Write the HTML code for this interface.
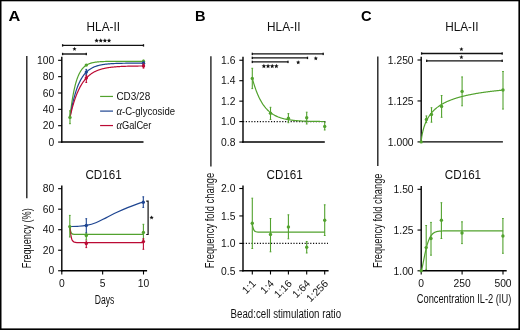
<!DOCTYPE html>
<html><head><meta charset="utf-8"><style>
html,body{margin:0;padding:0;background:#fff;}
svg{display:block;font-family:"Liberation Sans", sans-serif;will-change:transform;}
</style></head><body>
<svg width="520" height="330" viewBox="0 0 520 330">
<rect x="0" y="0" width="520" height="330" fill="#fff"/>
<rect x="0" y="0" width="520" height="1.3" fill="#000"/>
<rect x="0" y="0" width="1.5" height="330" fill="#000"/>
<rect x="518.4" y="0" width="1.6" height="330" fill="#000"/>
<rect x="0" y="328.4" width="520" height="1.6" fill="#000"/>
<text x="8.40" y="20.60" font-size="14.6" text-anchor="start" fill="#000" font-weight="bold" textLength="11.8" lengthAdjust="spacingAndGlyphs" >A</text>
<text x="195.00" y="20.80" font-size="14.6" text-anchor="start" fill="#000" font-weight="bold" >B</text>
<text x="361.00" y="20.80" font-size="14.6" text-anchor="start" fill="#000" font-weight="bold" textLength="10.6" lengthAdjust="spacingAndGlyphs" >C</text>
<text x="86.60" y="30.50" font-size="12.2" text-anchor="start" fill="#111" font-weight="normal" textLength="33.4" lengthAdjust="spacingAndGlyphs" >HLA-II</text>
<text x="267.10" y="30.50" font-size="12.2" text-anchor="start" fill="#111" font-weight="normal" textLength="33.4" lengthAdjust="spacingAndGlyphs" >HLA-II</text>
<text x="445.20" y="30.50" font-size="12.2" text-anchor="start" fill="#111" font-weight="normal" textLength="33.4" lengthAdjust="spacingAndGlyphs" >HLA-II</text>
<text x="85.40" y="178.50" font-size="12.6" text-anchor="start" fill="#111" font-weight="normal" textLength="36.3" lengthAdjust="spacingAndGlyphs" >CD161</text>
<text x="266.50" y="178.50" font-size="12.6" text-anchor="start" fill="#111" font-weight="normal" textLength="36.3" lengthAdjust="spacingAndGlyphs" >CD161</text>
<text x="444.80" y="178.50" font-size="12.6" text-anchor="start" fill="#111" font-weight="normal" textLength="36.3" lengthAdjust="spacingAndGlyphs" >CD161</text>
<line x1="26.80" y1="56.10" x2="26.80" y2="198.20" stroke="#222" stroke-width="1.4" />
<line x1="210.90" y1="56.30" x2="210.90" y2="166.40" stroke="#222" stroke-width="1.4" />
<line x1="377.80" y1="56.40" x2="377.80" y2="165.90" stroke="#222" stroke-width="1.4" />
<text x="0.00" y="0.00" font-size="12.2" text-anchor="start" fill="#111" font-weight="normal" textLength="60" lengthAdjust="spacingAndGlyphs" transform="translate(30.6,268.2) rotate(-90)">Frequency (%)</text>
<text x="0.00" y="0.00" font-size="12.2" text-anchor="start" fill="#111" font-weight="normal" textLength="95.5" lengthAdjust="spacingAndGlyphs" transform="translate(213.9,268.2) rotate(-90)">Frequency fold change</text>
<text x="0.00" y="0.00" font-size="12.2" text-anchor="start" fill="#111" font-weight="normal" textLength="94.5" lengthAdjust="spacingAndGlyphs" transform="translate(381.5,268.0) rotate(-90)">Frequency fold change</text>
<line x1="61.80" y1="56.80" x2="61.80" y2="142.75" stroke="#000" stroke-width="1.4" />
<line x1="58.10" y1="142.05" x2="61.80" y2="142.05" stroke="#000" stroke-width="1.1" />
<text x="54.20" y="145.75" font-size="10.3" text-anchor="end" fill="#111" font-weight="normal" >0</text>
<line x1="58.10" y1="125.70" x2="61.80" y2="125.70" stroke="#000" stroke-width="1.1" />
<text x="54.20" y="129.40" font-size="10.3" text-anchor="end" fill="#111" font-weight="normal" >20</text>
<line x1="58.10" y1="109.35" x2="61.80" y2="109.35" stroke="#000" stroke-width="1.1" />
<text x="54.20" y="113.05" font-size="10.3" text-anchor="end" fill="#111" font-weight="normal" >40</text>
<line x1="58.10" y1="93.00" x2="61.80" y2="93.00" stroke="#000" stroke-width="1.1" />
<text x="54.20" y="96.70" font-size="10.3" text-anchor="end" fill="#111" font-weight="normal" >60</text>
<line x1="58.10" y1="76.65" x2="61.80" y2="76.65" stroke="#000" stroke-width="1.1" />
<text x="54.20" y="80.35" font-size="10.3" text-anchor="end" fill="#111" font-weight="normal" >80</text>
<line x1="58.10" y1="60.30" x2="61.80" y2="60.30" stroke="#000" stroke-width="1.1" />
<text x="54.20" y="64.00" font-size="10.3" text-anchor="end" fill="#111" font-weight="normal" >100</text>
<line x1="61.10" y1="142.05" x2="143.50" y2="142.05" stroke="#000" stroke-width="1.4" />
<line x1="62.60" y1="45.40" x2="143.50" y2="45.40" stroke="#111" stroke-width="1.4" />
<rect x="61.95" y="44.20" width="1.3" height="2.4" fill="#111"/>
<rect x="142.85" y="44.20" width="1.3" height="2.4" fill="#111"/>
<line x1="62.60" y1="54.00" x2="86.30" y2="54.00" stroke="#111" stroke-width="1.4" />
<rect x="61.95" y="52.80" width="1.3" height="2.4" fill="#111"/>
<rect x="85.65" y="52.80" width="1.3" height="2.4" fill="#111"/>
<polygon points="96.60,38.30 97.21,39.76 98.79,39.89 97.58,40.92 97.95,42.46 96.60,41.63 95.25,42.46 95.62,40.92 94.41,39.89 95.99,39.76" fill="#111"/>
<polygon points="100.75,38.30 101.36,39.76 102.94,39.89 101.73,40.92 102.10,42.46 100.75,41.63 99.40,42.46 99.77,40.92 98.56,39.89 100.14,39.76" fill="#111"/>
<polygon points="104.90,38.30 105.51,39.76 107.09,39.89 105.88,40.92 106.25,42.46 104.90,41.63 103.55,42.46 103.92,40.92 102.71,39.89 104.29,39.76" fill="#111"/>
<polygon points="109.05,38.30 109.66,39.76 111.24,39.89 110.03,40.92 110.40,42.46 109.05,41.63 107.70,42.46 108.07,40.92 106.86,39.89 108.44,39.76" fill="#111"/>
<polygon points="74.50,46.80 75.08,48.20 76.59,48.32 75.44,49.31 75.79,50.78 74.50,49.99 73.21,50.78 73.56,49.31 72.41,48.32 73.92,48.20" fill="#111"/>
<path d="M69.97,117.40 L70.38,113.79 L70.79,110.41 L71.20,107.25 L71.60,104.30 L72.01,101.53 L72.42,98.94 L72.83,96.52 L73.24,94.25 L73.65,92.13 L74.05,90.15 L74.46,88.29 L74.87,86.56 L75.28,84.93 L75.69,83.41 L76.10,81.99 L76.51,80.66 L76.91,79.41 L77.32,78.25 L77.73,77.16 L78.14,76.14 L78.55,75.18 L78.96,74.29 L79.37,73.45 L79.77,72.67 L80.18,71.94 L80.59,71.26 L81.00,70.62 L81.41,70.02 L81.82,69.46 L82.22,68.93 L82.63,68.44 L83.04,67.98 L83.45,67.55 L83.86,67.15 L84.27,66.77 L84.68,66.42 L85.08,66.09 L85.49,65.78 L85.90,65.49 L86.31,65.22 L86.72,64.97 L87.13,64.74 L87.54,64.51 L87.94,64.31 L88.35,64.11 L88.76,63.93 L89.17,63.76 L89.58,63.61 L89.99,63.46 L90.39,63.32 L90.80,63.19 L91.21,63.07 L91.62,62.95 L92.03,62.85 L92.44,62.75 L92.85,62.65 L93.25,62.57 L93.66,62.49 L94.07,62.41 L94.48,62.34 L94.89,62.27 L95.30,62.21 L95.71,62.15 L96.11,62.10 L96.52,62.04 L96.93,62.00 L97.34,61.95 L97.75,61.91 L98.16,61.87 L98.56,61.83 L98.97,61.80 L99.38,61.77 L99.79,61.74 L100.20,61.71 L100.61,61.68 L101.02,61.66 L101.42,61.64 L101.83,61.61 L102.24,61.59 L102.65,61.57 L103.06,61.56 L103.47,61.54 L103.88,61.52 L104.28,61.51 L104.69,61.50 L105.10,61.48 L105.51,61.47 L105.92,61.46 L106.33,61.45 L106.73,61.44 L107.14,61.43 L107.55,61.42 L107.96,61.42 L108.37,61.41 L108.78,61.40 L109.19,61.39 L109.59,61.39 L110.00,61.38 L110.41,61.38 L110.82,61.37 L111.23,61.37 L111.64,61.36 L112.05,61.36 L112.45,61.36 L112.86,61.35 L113.27,61.35 L113.68,61.35 L114.09,61.34 L114.50,61.34 L114.91,61.34 L115.31,61.33 L115.72,61.33 L116.13,61.33 L116.54,61.33 L116.95,61.33 L117.36,61.33 L117.76,61.32 L118.17,61.32 L118.58,61.32 L118.99,61.32 L119.40,61.32 L119.81,61.32 L120.22,61.32 L120.62,61.31 L121.03,61.31 L121.44,61.31 L121.85,61.31 L122.26,61.31 L122.67,61.31 L123.07,61.31 L123.48,61.31 L123.89,61.31 L124.30,61.31 L124.71,61.31 L125.12,61.31 L125.53,61.31 L125.93,61.31 L126.34,61.31 L126.75,61.31 L127.16,61.31 L127.57,61.30 L127.98,61.30 L128.39,61.30 L128.79,61.30 L129.20,61.30 L129.61,61.30 L130.02,61.30 L130.43,61.30 L130.84,61.30 L131.25,61.30 L131.65,61.30 L132.06,61.30 L132.47,61.30 L132.88,61.30 L133.29,61.30 L133.70,61.30 L134.10,61.30 L134.51,61.30 L134.92,61.30 L135.33,61.30 L135.74,61.30 L136.15,61.30 L136.56,61.30 L136.96,61.30 L137.37,61.30 L137.78,61.30 L138.19,61.30 L138.60,61.30 L139.01,61.30 L139.41,61.30 L139.82,61.30 L140.23,61.30 L140.64,61.30 L141.05,61.30 L141.46,61.30 L141.87,61.30 L142.27,61.30 L142.68,61.30 L143.09,61.30 L143.50,61.30" fill="none" stroke="#52a22e" stroke-width="1.2" />
<path d="M69.97,117.40 L70.38,115.03 L70.79,112.76 L71.20,110.59 L71.60,108.51 L72.01,106.52 L72.42,104.63 L72.83,102.81 L73.24,101.07 L73.65,99.41 L74.05,97.83 L74.46,96.31 L74.87,94.86 L75.28,93.47 L75.69,92.14 L76.10,90.87 L76.51,89.66 L76.91,88.50 L77.32,87.39 L77.73,86.32 L78.14,85.31 L78.55,84.34 L78.96,83.41 L79.37,82.52 L79.77,81.67 L80.18,80.86 L80.59,80.08 L81.00,79.34 L81.41,78.63 L81.82,77.95 L82.22,77.30 L82.63,76.68 L83.04,76.09 L83.45,75.52 L83.86,74.98 L84.27,74.46 L84.68,73.96 L85.08,73.49 L85.49,73.03 L85.90,72.60 L86.31,72.18 L86.72,71.79 L87.13,71.41 L87.54,71.04 L87.94,70.70 L88.35,70.36 L88.76,70.05 L89.17,69.74 L89.58,69.45 L89.99,69.18 L90.39,68.91 L90.80,68.66 L91.21,68.41 L91.62,68.18 L92.03,67.96 L92.44,67.75 L92.85,67.54 L93.25,67.35 L93.66,67.16 L94.07,66.99 L94.48,66.82 L94.89,66.65 L95.30,66.50 L95.71,66.35 L96.11,66.21 L96.52,66.07 L96.93,65.94 L97.34,65.82 L97.75,65.70 L98.16,65.58 L98.56,65.48 L98.97,65.37 L99.38,65.27 L99.79,65.18 L100.20,65.09 L100.61,65.00 L101.02,64.92 L101.42,64.84 L101.83,64.76 L102.24,64.69 L102.65,64.62 L103.06,64.55 L103.47,64.49 L103.88,64.43 L104.28,64.37 L104.69,64.32 L105.10,64.26 L105.51,64.21 L105.92,64.16 L106.33,64.12 L106.73,64.07 L107.14,64.03 L107.55,63.99 L107.96,63.95 L108.37,63.91 L108.78,63.88 L109.19,63.84 L109.59,63.81 L110.00,63.78 L110.41,63.75 L110.82,63.72 L111.23,63.69 L111.64,63.67 L112.05,63.64 L112.45,63.62 L112.86,63.60 L113.27,63.58 L113.68,63.55 L114.09,63.53 L114.50,63.52 L114.91,63.50 L115.31,63.48 L115.72,63.46 L116.13,63.45 L116.54,63.43 L116.95,63.42 L117.36,63.40 L117.76,63.39 L118.17,63.38 L118.58,63.37 L118.99,63.35 L119.40,63.34 L119.81,63.33 L120.22,63.32 L120.62,63.31 L121.03,63.30 L121.44,63.29 L121.85,63.29 L122.26,63.28 L122.67,63.27 L123.07,63.26 L123.48,63.26 L123.89,63.25 L124.30,63.24 L124.71,63.24 L125.12,63.23 L125.53,63.22 L125.93,63.22 L126.34,63.21 L126.75,63.21 L127.16,63.20 L127.57,63.20 L127.98,63.20 L128.39,63.19 L128.79,63.19 L129.20,63.18 L129.61,63.18 L130.02,63.18 L130.43,63.17 L130.84,63.17 L131.25,63.17 L131.65,63.16 L132.06,63.16 L132.47,63.16 L132.88,63.16 L133.29,63.15 L133.70,63.15 L134.10,63.15 L134.51,63.15 L134.92,63.14 L135.33,63.14 L135.74,63.14 L136.15,63.14 L136.56,63.14 L136.96,63.14 L137.37,63.13 L137.78,63.13 L138.19,63.13 L138.60,63.13 L139.01,63.13 L139.41,63.13 L139.82,63.13 L140.23,63.12 L140.64,63.12 L141.05,63.12 L141.46,63.12 L141.87,63.12 L142.27,63.12 L142.68,63.12 L143.09,63.12 L143.50,63.12" fill="none" stroke="#1e4591" stroke-width="1.2" />
<path d="M69.97,117.40 L70.38,115.58 L70.79,113.82 L71.20,112.13 L71.60,110.49 L72.01,108.92 L72.42,107.40 L72.83,105.93 L73.24,104.51 L73.65,103.15 L74.05,101.83 L74.46,100.56 L74.87,99.33 L75.28,98.15 L75.69,97.01 L76.10,95.91 L76.51,94.85 L76.91,93.83 L77.32,92.84 L77.73,91.89 L78.14,90.97 L78.55,90.08 L78.96,89.23 L79.37,88.40 L79.77,87.61 L80.18,86.84 L80.59,86.10 L81.00,85.38 L81.41,84.69 L81.82,84.03 L82.22,83.39 L82.63,82.77 L83.04,82.17 L83.45,81.60 L83.86,81.04 L84.27,80.51 L84.68,79.99 L85.08,79.49 L85.49,79.01 L85.90,78.55 L86.31,78.10 L86.72,77.67 L87.13,77.25 L87.54,76.85 L87.94,76.47 L88.35,76.09 L88.76,75.73 L89.17,75.38 L89.58,75.05 L89.99,74.72 L90.39,74.41 L90.80,74.11 L91.21,73.82 L91.62,73.54 L92.03,73.27 L92.44,73.01 L92.85,72.76 L93.25,72.52 L93.66,72.28 L94.07,72.06 L94.48,71.84 L94.89,71.63 L95.30,71.43 L95.71,71.23 L96.11,71.04 L96.52,70.86 L96.93,70.69 L97.34,70.52 L97.75,70.35 L98.16,70.20 L98.56,70.04 L98.97,69.90 L99.38,69.76 L99.79,69.62 L100.20,69.49 L100.61,69.36 L101.02,69.24 L101.42,69.12 L101.83,69.01 L102.24,68.90 L102.65,68.79 L103.06,68.69 L103.47,68.59 L103.88,68.49 L104.28,68.40 L104.69,68.31 L105.10,68.23 L105.51,68.15 L105.92,68.07 L106.33,67.99 L106.73,67.92 L107.14,67.85 L107.55,67.78 L107.96,67.71 L108.37,67.65 L108.78,67.58 L109.19,67.53 L109.59,67.47 L110.00,67.41 L110.41,67.36 L110.82,67.31 L111.23,67.26 L111.64,67.21 L112.05,67.16 L112.45,67.12 L112.86,67.08 L113.27,67.03 L113.68,66.99 L114.09,66.96 L114.50,66.92 L114.91,66.88 L115.31,66.85 L115.72,66.81 L116.13,66.78 L116.54,66.75 L116.95,66.72 L117.36,66.69 L117.76,66.66 L118.17,66.64 L118.58,66.61 L118.99,66.58 L119.40,66.56 L119.81,66.54 L120.22,66.51 L120.62,66.49 L121.03,66.47 L121.44,66.45 L121.85,66.43 L122.26,66.41 L122.67,66.40 L123.07,66.38 L123.48,66.36 L123.89,66.34 L124.30,66.33 L124.71,66.31 L125.12,66.30 L125.53,66.29 L125.93,66.27 L126.34,66.26 L126.75,66.25 L127.16,66.23 L127.57,66.22 L127.98,66.21 L128.39,66.20 L128.79,66.19 L129.20,66.18 L129.61,66.17 L130.02,66.16 L130.43,66.15 L130.84,66.14 L131.25,66.13 L131.65,66.12 L132.06,66.12 L132.47,66.11 L132.88,66.10 L133.29,66.09 L133.70,66.09 L134.10,66.08 L134.51,66.07 L134.92,66.07 L135.33,66.06 L135.74,66.06 L136.15,66.05 L136.56,66.05 L136.96,66.04 L137.37,66.04 L137.78,66.03 L138.19,66.03 L138.60,66.02 L139.01,66.02 L139.41,66.01 L139.82,66.01 L140.23,66.01 L140.64,66.00 L141.05,66.00 L141.46,65.99 L141.87,65.99 L142.27,65.99 L142.68,65.98 L143.09,65.98 L143.50,65.98" fill="none" stroke="#bb0a34" stroke-width="1.2" />
<line x1="69.97" y1="110.80" x2="69.97" y2="123.70" stroke="#52a22e" stroke-width="1.1" />
<line x1="69.12" y1="110.80" x2="70.82" y2="110.80" stroke="#52a22e" stroke-width="1.0" />
<line x1="69.12" y1="123.70" x2="70.82" y2="123.70" stroke="#52a22e" stroke-width="1.0" />
<circle cx="69.97" cy="117.40" r="1.7" fill="#52a22e"/>
<circle cx="86.31" cy="65.10" r="1.7" fill="#52a22e"/>
<line x1="143.50" y1="60.00" x2="143.50" y2="62.80" stroke="#52a22e" stroke-width="1.1" />
<line x1="142.65" y1="60.00" x2="144.35" y2="60.00" stroke="#52a22e" stroke-width="1.0" />
<line x1="142.65" y1="62.80" x2="144.35" y2="62.80" stroke="#52a22e" stroke-width="1.0" />
<circle cx="143.50" cy="61.50" r="1.7" fill="#52a22e"/>
<line x1="86.31" y1="69.40" x2="86.31" y2="74.80" stroke="#1e4591" stroke-width="1.1" />
<line x1="85.46" y1="69.40" x2="87.16" y2="69.40" stroke="#1e4591" stroke-width="1.0" />
<line x1="85.46" y1="74.80" x2="87.16" y2="74.80" stroke="#1e4591" stroke-width="1.0" />
<circle cx="86.31" cy="72.10" r="1.7" fill="#1e4591"/>
<line x1="143.50" y1="61.80" x2="143.50" y2="64.60" stroke="#1e4591" stroke-width="1.1" />
<line x1="142.65" y1="61.80" x2="144.35" y2="61.80" stroke="#1e4591" stroke-width="1.0" />
<line x1="142.65" y1="64.60" x2="144.35" y2="64.60" stroke="#1e4591" stroke-width="1.0" />
<circle cx="143.50" cy="63.20" r="1.7" fill="#1e4591"/>
<line x1="86.31" y1="75.30" x2="86.31" y2="82.50" stroke="#bb0a34" stroke-width="1.1" />
<line x1="85.46" y1="75.30" x2="87.16" y2="75.30" stroke="#bb0a34" stroke-width="1.0" />
<line x1="85.46" y1="82.50" x2="87.16" y2="82.50" stroke="#bb0a34" stroke-width="1.0" />
<circle cx="86.31" cy="78.00" r="1.7" fill="#bb0a34"/>
<line x1="143.50" y1="63.90" x2="143.50" y2="68.10" stroke="#bb0a34" stroke-width="1.1" />
<line x1="142.65" y1="63.90" x2="144.35" y2="63.90" stroke="#bb0a34" stroke-width="1.0" />
<line x1="142.65" y1="68.10" x2="144.35" y2="68.10" stroke="#bb0a34" stroke-width="1.0" />
<circle cx="143.50" cy="66.00" r="1.7" fill="#bb0a34"/>
<line x1="100.10" y1="96.45" x2="113.00" y2="96.45" stroke="#52a22e" stroke-width="1.2" />
<text x="116.40" y="99.85" font-size="10.3" text-anchor="start" fill="#111" font-weight="normal" textLength="33.8" lengthAdjust="spacingAndGlyphs" >CD3/28</text>
<line x1="100.10" y1="111.10" x2="113.00" y2="111.10" stroke="#1e4591" stroke-width="1.2" />
<text x="116.40" y="114.50" font-size="10.3" text-anchor="start" fill="#111" font-weight="normal" textLength="58.6" lengthAdjust="spacingAndGlyphs" ><tspan font-family="Liberation Serif" font-style="italic" font-size="11.6">&#945;</tspan>-C-glycoside</text>
<line x1="100.10" y1="125.55" x2="113.00" y2="125.55" stroke="#bb0a34" stroke-width="1.2" />
<text x="116.40" y="128.95" font-size="10.3" text-anchor="start" fill="#111" font-weight="normal" textLength="35.0" lengthAdjust="spacingAndGlyphs" ><tspan font-family="Liberation Serif" font-style="italic" font-size="11.6">&#945;</tspan>GalCer</text>
<line x1="61.80" y1="185.50" x2="61.80" y2="271.45" stroke="#000" stroke-width="1.4" />
<line x1="58.10" y1="270.75" x2="61.80" y2="270.75" stroke="#000" stroke-width="1.1" />
<text x="54.20" y="274.45" font-size="10.3" text-anchor="end" fill="#111" font-weight="normal" >0</text>
<line x1="58.10" y1="250.23" x2="61.80" y2="250.23" stroke="#000" stroke-width="1.1" />
<text x="54.20" y="253.93" font-size="10.3" text-anchor="end" fill="#111" font-weight="normal" >20</text>
<line x1="58.10" y1="229.71" x2="61.80" y2="229.71" stroke="#000" stroke-width="1.1" />
<text x="54.20" y="233.41" font-size="10.3" text-anchor="end" fill="#111" font-weight="normal" >40</text>
<line x1="58.10" y1="209.19" x2="61.80" y2="209.19" stroke="#000" stroke-width="1.1" />
<text x="54.20" y="212.89" font-size="10.3" text-anchor="end" fill="#111" font-weight="normal" >60</text>
<line x1="58.10" y1="188.67" x2="61.80" y2="188.67" stroke="#000" stroke-width="1.1" />
<text x="54.20" y="192.37" font-size="10.3" text-anchor="end" fill="#111" font-weight="normal" >80</text>
<line x1="61.10" y1="270.75" x2="147.10" y2="270.75" stroke="#000" stroke-width="1.4" />
<line x1="61.80" y1="270.75" x2="61.80" y2="274.50" stroke="#000" stroke-width="1.1" />
<text x="61.80" y="286.80" font-size="10.3" text-anchor="middle" fill="#111" font-weight="normal" >0</text>
<line x1="102.65" y1="270.75" x2="102.65" y2="274.50" stroke="#000" stroke-width="1.1" />
<text x="102.65" y="286.80" font-size="10.3" text-anchor="middle" fill="#111" font-weight="normal" >5</text>
<line x1="143.50" y1="270.75" x2="143.50" y2="274.50" stroke="#000" stroke-width="1.1" />
<text x="143.50" y="286.80" font-size="10.3" text-anchor="middle" fill="#111" font-weight="normal" >10</text>
<text x="104.50" y="303.50" font-size="12" text-anchor="middle" fill="#111" font-weight="normal" textLength="19.6" lengthAdjust="spacingAndGlyphs" >Days</text>
<path d="M69.80,226.50 C71.17,226.47 75.25,226.48 78.00,226.30 C80.75,226.12 83.33,225.98 86.30,225.40 C89.27,224.82 92.45,224.10 95.80,222.80 C99.15,221.50 102.87,219.35 106.40,217.60 C109.93,215.85 113.47,213.97 117.00,212.30 C120.53,210.63 124.07,209.05 127.60,207.60 C131.13,206.15 135.57,204.50 138.20,203.60 C140.83,202.70 142.53,202.43 143.40,202.20" fill="none" stroke="#1e4591" stroke-width="1.2" />
<path d="M69.8,226.6 C70.8,233.5 71.5,234.4 74.5,234.4 L143.4,234.4" fill="none" stroke="#52a22e" stroke-width="1.2" />
<path d="M69.8,226.6 C71.2,240.8 72,242.6 77,242.6 L143.4,242.6" fill="none" stroke="#bb0a34" stroke-width="1.2" />
<line x1="69.80" y1="215.40" x2="69.80" y2="237.00" stroke="#52a22e" stroke-width="1.1" />
<line x1="68.95" y1="215.40" x2="70.65" y2="215.40" stroke="#52a22e" stroke-width="1.0" />
<line x1="68.95" y1="237.00" x2="70.65" y2="237.00" stroke="#52a22e" stroke-width="1.0" />
<circle cx="69.80" cy="226.60" r="1.7" fill="#52a22e"/>
<line x1="86.30" y1="218.70" x2="86.30" y2="232.70" stroke="#1e4591" stroke-width="1.1" />
<line x1="85.45" y1="218.70" x2="87.15" y2="218.70" stroke="#1e4591" stroke-width="1.0" />
<line x1="85.45" y1="232.70" x2="87.15" y2="232.70" stroke="#1e4591" stroke-width="1.0" />
<circle cx="86.30" cy="225.50" r="1.7" fill="#1e4591"/>
<line x1="86.30" y1="233.40" x2="86.30" y2="239.80" stroke="#52a22e" stroke-width="1.1" />
<line x1="85.45" y1="233.40" x2="87.15" y2="233.40" stroke="#52a22e" stroke-width="1.0" />
<line x1="85.45" y1="239.80" x2="87.15" y2="239.80" stroke="#52a22e" stroke-width="1.0" />
<circle cx="86.30" cy="235.60" r="1.7" fill="#52a22e"/>
<line x1="86.30" y1="241.00" x2="86.30" y2="247.60" stroke="#bb0a34" stroke-width="1.1" />
<line x1="85.45" y1="241.00" x2="87.15" y2="241.00" stroke="#bb0a34" stroke-width="1.0" />
<line x1="85.45" y1="247.60" x2="87.15" y2="247.60" stroke="#bb0a34" stroke-width="1.0" />
<circle cx="86.30" cy="243.60" r="1.7" fill="#bb0a34"/>
<line x1="143.30" y1="196.80" x2="143.30" y2="207.40" stroke="#1e4591" stroke-width="1.1" />
<line x1="142.45" y1="196.80" x2="144.15" y2="196.80" stroke="#1e4591" stroke-width="1.0" />
<line x1="142.45" y1="207.40" x2="144.15" y2="207.40" stroke="#1e4591" stroke-width="1.0" />
<circle cx="143.30" cy="202.30" r="1.7" fill="#1e4591"/>
<line x1="143.40" y1="224.30" x2="143.40" y2="240.00" stroke="#52a22e" stroke-width="1.1" />
<line x1="142.55" y1="224.30" x2="144.25" y2="224.30" stroke="#52a22e" stroke-width="1.0" />
<line x1="142.55" y1="240.00" x2="144.25" y2="240.00" stroke="#52a22e" stroke-width="1.0" />
<circle cx="143.40" cy="232.40" r="1.7" fill="#52a22e"/>
<line x1="143.40" y1="238.70" x2="143.40" y2="249.30" stroke="#bb0a34" stroke-width="1.1" />
<line x1="142.55" y1="238.70" x2="144.25" y2="238.70" stroke="#bb0a34" stroke-width="1.0" />
<line x1="142.55" y1="249.30" x2="144.25" y2="249.30" stroke="#bb0a34" stroke-width="1.0" />
<circle cx="143.40" cy="241.60" r="1.7" fill="#bb0a34"/>
<path d="M146.2,201.1 L148.1,201.1 L148.1,234.5 L146.2,234.5" fill="none" stroke="#111" stroke-width="1.2" />
<polygon points="151.60,215.40 152.18,216.80 153.69,216.92 152.54,217.91 152.89,219.38 151.60,218.59 150.31,219.38 150.66,217.91 149.51,216.92 151.02,216.80" fill="#111"/>
<line x1="243.00" y1="56.80" x2="243.00" y2="142.70" stroke="#000" stroke-width="1.4" />
<line x1="239.30" y1="142.05" x2="243.00" y2="142.05" stroke="#000" stroke-width="1.1" />
<text x="235.40" y="145.75" font-size="10.3" text-anchor="end" fill="#111" font-weight="normal" >0.8</text>
<line x1="239.30" y1="121.60" x2="243.00" y2="121.60" stroke="#000" stroke-width="1.1" />
<text x="235.40" y="125.30" font-size="10.3" text-anchor="end" fill="#111" font-weight="normal" >1.0</text>
<line x1="239.30" y1="101.15" x2="243.00" y2="101.15" stroke="#000" stroke-width="1.1" />
<text x="235.40" y="104.85" font-size="10.3" text-anchor="end" fill="#111" font-weight="normal" >1.2</text>
<line x1="239.30" y1="80.70" x2="243.00" y2="80.70" stroke="#000" stroke-width="1.1" />
<text x="235.40" y="84.40" font-size="10.3" text-anchor="end" fill="#111" font-weight="normal" >1.4</text>
<line x1="239.30" y1="60.25" x2="243.00" y2="60.25" stroke="#000" stroke-width="1.1" />
<text x="235.40" y="63.95" font-size="10.3" text-anchor="end" fill="#111" font-weight="normal" >1.6</text>
<line x1="242.30" y1="142.00" x2="324.80" y2="142.00" stroke="#000" stroke-width="1.4" />
<line x1="243.00" y1="121.60" x2="325.50" y2="121.60" stroke="#111" stroke-width="1.1" stroke-dasharray="1.2,1.6"/>
<line x1="252.30" y1="53.90" x2="323.20" y2="53.90" stroke="#111" stroke-width="1.3" />
<rect x="251.65" y="52.70" width="1.3" height="2.4" fill="#111"/>
<rect x="322.55" y="52.70" width="1.3" height="2.4" fill="#111"/>
<line x1="252.30" y1="57.90" x2="307.50" y2="57.90" stroke="#111" stroke-width="1.3" />
<rect x="251.65" y="56.70" width="1.3" height="2.4" fill="#111"/>
<rect x="306.85" y="56.70" width="1.3" height="2.4" fill="#111"/>
<line x1="252.30" y1="61.90" x2="288.00" y2="61.90" stroke="#111" stroke-width="1.3" />
<rect x="251.65" y="60.70" width="1.3" height="2.4" fill="#111"/>
<rect x="287.35" y="60.70" width="1.3" height="2.4" fill="#111"/>
<polygon points="263.90,63.80 264.53,65.33 266.18,65.46 264.93,66.53 265.31,68.14 263.90,67.28 262.49,68.14 262.87,66.53 261.62,65.46 263.27,65.33" fill="#111"/>
<polygon points="268.05,63.80 268.68,65.33 270.33,65.46 269.08,66.53 269.46,68.14 268.05,67.28 266.64,68.14 267.02,66.53 265.77,65.46 267.42,65.33" fill="#111"/>
<polygon points="272.20,63.80 272.83,65.33 274.48,65.46 273.23,66.53 273.61,68.14 272.20,67.28 270.79,68.14 271.17,66.53 269.92,65.46 271.57,65.33" fill="#111"/>
<polygon points="276.35,63.80 276.98,65.33 278.63,65.46 277.38,66.53 277.76,68.14 276.35,67.28 274.94,68.14 275.32,66.53 274.07,65.46 275.72,65.33" fill="#111"/>
<polygon points="298.20,60.20 298.78,61.60 300.29,61.72 299.14,62.71 299.49,64.18 298.20,63.39 296.91,64.18 297.26,62.71 296.11,61.72 297.62,61.60" fill="#111"/>
<polygon points="315.80,56.20 316.38,57.60 317.89,57.72 316.74,58.71 317.09,60.18 315.80,59.39 314.51,60.18 314.86,58.71 313.71,57.72 315.22,57.60" fill="#111"/>
<path d="M252.30,78.30 L252.80,80.13 L253.30,81.88 L253.80,83.55 L254.30,85.16 L254.80,86.69 L255.30,88.17 L255.80,89.58 L256.30,90.93 L256.80,92.22 L257.30,93.46 L257.80,94.65 L258.30,95.79 L258.80,96.88 L259.30,97.92 L259.80,98.92 L260.30,99.87 L260.80,100.79 L261.30,101.67 L261.80,102.51 L262.30,103.31 L262.80,104.09 L263.30,104.83 L263.80,105.53 L264.30,106.21 L264.80,106.86 L265.30,107.48 L265.80,108.08 L266.30,108.65 L266.80,109.19 L267.30,109.72 L267.80,110.22 L268.30,110.70 L268.80,111.16 L269.30,111.60 L269.80,112.02 L270.30,112.43 L270.80,112.81 L271.30,113.18 L271.80,113.54 L272.30,113.88 L272.80,114.20 L273.30,114.52 L273.80,114.82 L274.30,115.10 L274.80,115.38 L275.30,115.64 L275.80,115.89 L276.30,116.13 L276.80,116.36 L277.30,116.58 L277.80,116.79 L278.30,117.00 L278.80,117.19 L279.30,117.38 L279.80,117.56 L280.30,117.73 L280.80,117.89 L281.30,118.05 L281.80,118.20 L282.30,118.34 L282.80,118.48 L283.30,118.61 L283.80,118.73 L284.30,118.86 L284.80,118.97 L285.30,119.08 L285.80,119.19 L286.30,119.29 L286.80,119.39 L287.30,119.48 L287.80,119.57 L288.30,119.66 L288.80,119.74 L289.30,119.82 L289.80,119.89 L290.30,119.96 L290.80,120.03 L291.30,120.10 L291.80,120.16 L292.30,120.22 L292.80,120.28 L293.30,120.34 L293.80,120.39 L294.30,120.44 L294.80,120.49 L295.30,120.54 L295.80,120.58 L296.30,120.62 L296.80,120.67 L297.30,120.71 L297.80,120.74 L298.30,120.78 L298.80,120.81 L299.30,120.85 L299.80,120.88 L300.30,120.91 L300.80,120.94 L301.30,120.97 L301.80,120.99 L302.30,121.02 L302.80,121.04 L303.30,121.07 L303.80,121.09 L304.30,121.11 L304.80,121.13 L305.30,121.15 L305.80,121.17 L306.30,121.19 L306.80,121.21 L307.30,121.22 L307.80,121.24 L308.30,121.25 L308.80,121.27 L309.30,121.28 L309.80,121.30 L310.30,121.31 L310.80,121.32 L311.30,121.33 L311.80,121.34 L312.30,121.35 L312.80,121.36 L313.30,121.37 L313.80,121.38 L314.30,121.39 L314.80,121.40 L315.30,121.41 L315.80,121.42 L316.30,121.43 L316.80,121.43 L317.30,121.44 L317.80,121.45 L318.30,121.45 L318.80,121.46 L319.30,121.47 L319.80,121.47 L320.30,121.48 L320.80,121.48 L321.30,121.49 L321.80,121.49 L322.30,121.50 L322.80,121.50 L323.30,121.50 L323.80,121.51 L324.30,121.51" fill="none" stroke="#52a22e" stroke-width="1.2" />
<line x1="252.30" y1="68.30" x2="252.30" y2="88.60" stroke="#52a22e" stroke-width="1.1" />
<line x1="251.45" y1="68.30" x2="253.15" y2="68.30" stroke="#52a22e" stroke-width="1.0" />
<line x1="251.45" y1="88.60" x2="253.15" y2="88.60" stroke="#52a22e" stroke-width="1.0" />
<circle cx="252.30" cy="78.40" r="1.7" fill="#52a22e"/>
<line x1="270.50" y1="107.30" x2="270.50" y2="119.50" stroke="#52a22e" stroke-width="1.1" />
<line x1="269.65" y1="107.30" x2="271.35" y2="107.30" stroke="#52a22e" stroke-width="1.0" />
<line x1="269.65" y1="119.50" x2="271.35" y2="119.50" stroke="#52a22e" stroke-width="1.0" />
<circle cx="270.50" cy="113.30" r="1.7" fill="#52a22e"/>
<line x1="288.40" y1="113.60" x2="288.40" y2="122.70" stroke="#52a22e" stroke-width="1.1" />
<line x1="287.55" y1="113.60" x2="289.25" y2="113.60" stroke="#52a22e" stroke-width="1.0" />
<line x1="287.55" y1="122.70" x2="289.25" y2="122.70" stroke="#52a22e" stroke-width="1.0" />
<circle cx="288.40" cy="118.20" r="1.7" fill="#52a22e"/>
<line x1="306.70" y1="112.20" x2="306.70" y2="124.00" stroke="#52a22e" stroke-width="1.1" />
<line x1="305.85" y1="112.20" x2="307.55" y2="112.20" stroke="#52a22e" stroke-width="1.0" />
<line x1="305.85" y1="124.00" x2="307.55" y2="124.00" stroke="#52a22e" stroke-width="1.0" />
<circle cx="306.70" cy="117.80" r="1.7" fill="#52a22e"/>
<line x1="324.70" y1="122.40" x2="324.70" y2="130.00" stroke="#52a22e" stroke-width="1.1" />
<line x1="323.85" y1="122.40" x2="325.55" y2="122.40" stroke="#52a22e" stroke-width="1.0" />
<line x1="323.85" y1="130.00" x2="325.55" y2="130.00" stroke="#52a22e" stroke-width="1.0" />
<circle cx="324.70" cy="126.40" r="1.7" fill="#52a22e"/>
<line x1="243.00" y1="185.50" x2="243.00" y2="271.50" stroke="#000" stroke-width="1.4" />
<line x1="239.30" y1="270.80" x2="243.00" y2="270.80" stroke="#000" stroke-width="1.1" />
<text x="235.40" y="274.50" font-size="10.3" text-anchor="end" fill="#111" font-weight="normal" >0.5</text>
<line x1="239.30" y1="243.37" x2="243.00" y2="243.37" stroke="#000" stroke-width="1.1" />
<text x="235.40" y="247.07" font-size="10.3" text-anchor="end" fill="#111" font-weight="normal" >1.0</text>
<line x1="239.30" y1="215.94" x2="243.00" y2="215.94" stroke="#000" stroke-width="1.1" />
<text x="235.40" y="219.64" font-size="10.3" text-anchor="end" fill="#111" font-weight="normal" >1.5</text>
<line x1="239.30" y1="188.51" x2="243.00" y2="188.51" stroke="#000" stroke-width="1.1" />
<text x="235.40" y="192.21" font-size="10.3" text-anchor="end" fill="#111" font-weight="normal" >2.0</text>
<line x1="242.30" y1="270.80" x2="328.60" y2="270.80" stroke="#000" stroke-width="1.4" />
<line x1="243.00" y1="243.37" x2="328.00" y2="243.37" stroke="#111" stroke-width="1.1" stroke-dasharray="1.2,1.6"/>
<line x1="252.30" y1="270.80" x2="252.30" y2="274.50" stroke="#000" stroke-width="1.1" />
<text x="0.00" y="0.00" font-size="10.4" text-anchor="end" fill="#111" font-weight="normal" transform="translate(256.50,284.2) rotate(-45)">1:1</text>
<line x1="270.50" y1="270.80" x2="270.50" y2="274.50" stroke="#000" stroke-width="1.1" />
<text x="0.00" y="0.00" font-size="10.4" text-anchor="end" fill="#111" font-weight="normal" transform="translate(274.70,284.2) rotate(-45)">1:4</text>
<line x1="288.40" y1="270.80" x2="288.40" y2="274.50" stroke="#000" stroke-width="1.1" />
<text x="0.00" y="0.00" font-size="10.4" text-anchor="end" fill="#111" font-weight="normal" transform="translate(292.60,284.2) rotate(-45)">1:16</text>
<line x1="306.70" y1="270.80" x2="306.70" y2="274.50" stroke="#000" stroke-width="1.1" />
<text x="0.00" y="0.00" font-size="10.4" text-anchor="end" fill="#111" font-weight="normal" transform="translate(310.90,284.2) rotate(-45)">1:64</text>
<line x1="324.70" y1="270.80" x2="324.70" y2="274.50" stroke="#000" stroke-width="1.1" />
<text x="0.00" y="0.00" font-size="10.4" text-anchor="end" fill="#111" font-weight="normal" transform="translate(328.90,284.2) rotate(-45)">1:256</text>
<text x="285.80" y="318.20" font-size="12" text-anchor="middle" fill="#111" font-weight="normal" textLength="110.5" lengthAdjust="spacingAndGlyphs" >Bead:cell stimulation ratio</text>
<path d="M252.1,223.3 C253.5,231 254.5,232.1 258,232.1 L324.8,232.1" fill="none" stroke="#52a22e" stroke-width="1.2" />
<line x1="252.30" y1="198.20" x2="252.30" y2="248.50" stroke="#52a22e" stroke-width="1.1" />
<line x1="251.45" y1="198.20" x2="253.15" y2="198.20" stroke="#52a22e" stroke-width="1.0" />
<line x1="251.45" y1="248.50" x2="253.15" y2="248.50" stroke="#52a22e" stroke-width="1.0" />
<circle cx="252.30" cy="223.30" r="1.7" fill="#52a22e"/>
<line x1="270.50" y1="218.50" x2="270.50" y2="251.80" stroke="#52a22e" stroke-width="1.1" />
<line x1="269.65" y1="218.50" x2="271.35" y2="218.50" stroke="#52a22e" stroke-width="1.0" />
<line x1="269.65" y1="251.80" x2="271.35" y2="251.80" stroke="#52a22e" stroke-width="1.0" />
<circle cx="270.50" cy="234.50" r="1.7" fill="#52a22e"/>
<line x1="288.40" y1="214.80" x2="288.40" y2="238.80" stroke="#52a22e" stroke-width="1.1" />
<line x1="287.55" y1="214.80" x2="289.25" y2="214.80" stroke="#52a22e" stroke-width="1.0" />
<line x1="287.55" y1="238.80" x2="289.25" y2="238.80" stroke="#52a22e" stroke-width="1.0" />
<circle cx="288.40" cy="227.00" r="1.7" fill="#52a22e"/>
<line x1="306.70" y1="241.50" x2="306.70" y2="253.00" stroke="#52a22e" stroke-width="1.1" />
<line x1="305.85" y1="241.50" x2="307.55" y2="241.50" stroke="#52a22e" stroke-width="1.0" />
<line x1="305.85" y1="253.00" x2="307.55" y2="253.00" stroke="#52a22e" stroke-width="1.0" />
<circle cx="306.70" cy="247.30" r="1.7" fill="#52a22e"/>
<line x1="324.70" y1="204.80" x2="324.70" y2="235.50" stroke="#52a22e" stroke-width="1.1" />
<line x1="323.85" y1="204.80" x2="325.55" y2="204.80" stroke="#52a22e" stroke-width="1.0" />
<line x1="323.85" y1="235.50" x2="325.55" y2="235.50" stroke="#52a22e" stroke-width="1.0" />
<circle cx="324.70" cy="220.30" r="1.7" fill="#52a22e"/>
<line x1="421.20" y1="56.70" x2="421.20" y2="142.60" stroke="#000" stroke-width="1.4" />
<line x1="417.50" y1="141.90" x2="421.20" y2="141.90" stroke="#000" stroke-width="1.1" />
<text x="413.60" y="145.60" font-size="10.3" text-anchor="end" fill="#111" font-weight="normal" >1.000</text>
<line x1="417.50" y1="100.95" x2="421.20" y2="100.95" stroke="#000" stroke-width="1.1" />
<text x="413.60" y="104.65" font-size="10.3" text-anchor="end" fill="#111" font-weight="normal" >1.125</text>
<line x1="417.50" y1="60.00" x2="421.20" y2="60.00" stroke="#000" stroke-width="1.1" />
<text x="413.60" y="63.70" font-size="10.3" text-anchor="end" fill="#111" font-weight="normal" >1.250</text>
<line x1="420.50" y1="141.90" x2="502.90" y2="141.90" stroke="#000" stroke-width="1.4" />
<line x1="421.60" y1="53.50" x2="502.20" y2="53.50" stroke="#111" stroke-width="1.3" />
<rect x="420.95" y="52.30" width="1.3" height="2.4" fill="#111"/>
<rect x="501.55" y="52.30" width="1.3" height="2.4" fill="#111"/>
<line x1="426.70" y1="60.80" x2="502.20" y2="60.80" stroke="#111" stroke-width="1.3" />
<rect x="426.05" y="59.60" width="1.3" height="2.4" fill="#111"/>
<rect x="501.55" y="59.60" width="1.3" height="2.4" fill="#111"/>
<polygon points="461.40,47.00 461.98,48.40 463.49,48.52 462.34,49.51 462.69,50.98 461.40,50.19 460.11,50.98 460.46,49.51 459.31,48.52 460.82,48.40" fill="#111"/>
<polygon points="461.40,55.00 461.98,56.40 463.49,56.52 462.34,57.51 462.69,58.98 461.40,58.19 460.11,58.98 460.46,57.51 459.31,56.52 460.82,56.40" fill="#111"/>
<path d="M421.20,141.90 L421.24,141.18 L421.28,140.68 L421.32,140.24 L421.36,139.84 L421.40,139.46 L421.45,139.11 L421.49,138.77 L421.53,138.45 L421.57,138.14 L421.61,137.84 L421.65,137.55 L421.69,137.27 L421.73,137.00 L421.77,136.73 L421.81,136.47 L421.85,136.22 L421.90,135.97 L421.94,135.73 L421.98,135.49 L422.02,135.26 L422.06,135.03 L422.10,134.81 L422.14,134.59 L422.18,134.37 L422.22,134.16 L422.26,133.95 L422.30,133.74 L422.35,133.54 L422.39,133.34 L422.43,133.14 L422.47,132.95 L422.51,132.76 L422.55,132.57 L422.59,132.38 L422.63,132.20 L422.67,132.02 L422.71,131.84 L422.75,131.66 L422.80,131.49 L422.84,131.32 L423.16,130.01 L423.49,128.81 L423.82,127.69 L424.14,126.66 L424.47,125.69 L424.80,124.77 L425.13,123.91 L425.45,123.10 L425.78,122.32 L426.11,121.59 L426.44,120.88 L426.76,120.21 L427.09,119.57 L427.42,118.95 L427.74,118.36 L428.07,117.80 L428.40,117.25 L428.73,116.72 L429.05,116.21 L429.38,115.72 L429.71,115.25 L430.03,114.79 L430.36,114.35 L430.69,113.92 L431.02,113.50 L431.34,113.09 L431.67,112.70 L432.00,112.32 L432.32,111.95 L432.65,111.59 L432.98,111.24 L433.31,110.89 L433.63,110.56 L433.96,110.24 L434.29,109.92 L434.62,109.61 L434.94,109.31 L435.27,109.01 L435.60,108.73 L435.92,108.45 L436.25,108.17 L436.58,107.90 L436.91,107.64 L437.23,107.38 L437.56,107.13 L437.89,106.89 L438.21,106.64 L438.54,106.41 L438.87,106.18 L439.20,105.95 L439.52,105.73 L439.85,105.51 L440.18,105.29 L440.50,105.08 L440.83,104.88 L441.16,104.68 L441.49,104.48 L441.81,104.28 L442.14,104.09 L442.47,103.90 L442.80,103.72 L443.12,103.54 L443.45,103.36 L443.78,103.18 L444.10,103.01 L444.43,102.84 L444.76,102.67 L445.09,102.51 L445.41,102.35 L445.74,102.19 L446.07,102.03 L446.39,101.87 L446.72,101.72 L447.05,101.57 L447.38,101.43 L447.70,101.28 L448.03,101.14 L448.36,101.00 L448.68,100.86 L449.01,100.72 L449.34,100.58 L449.67,100.45 L449.99,100.32 L450.32,100.19 L450.65,100.06 L450.98,99.94 L451.30,99.81 L451.63,99.69 L451.96,99.57 L452.28,99.45 L452.61,99.33 L452.94,99.21 L453.27,99.10 L453.59,98.98 L453.92,98.87 L454.25,98.76 L454.57,98.65 L454.90,98.54 L455.23,98.44 L455.56,98.33 L455.88,98.23 L456.21,98.13 L456.54,98.02 L456.86,97.92 L457.19,97.82 L457.52,97.73 L457.85,97.63 L458.17,97.53 L458.50,97.44 L458.83,97.34 L459.16,97.25 L459.48,97.16 L459.81,97.07 L460.14,96.98 L460.46,96.89 L460.79,96.80 L461.12,96.72 L461.45,96.63 L461.77,96.55 L462.10,96.46 L462.43,96.38 L462.75,96.30 L463.08,96.21 L463.41,96.13 L463.74,96.05 L464.06,95.97 L464.39,95.90 L464.72,95.82 L465.04,95.74 L465.37,95.67 L465.70,95.59 L466.03,95.52 L466.35,95.44 L466.68,95.37 L467.01,95.30 L467.34,95.23 L467.66,95.16 L467.99,95.08 L468.32,95.02 L468.64,94.95 L468.97,94.88 L469.30,94.81 L469.63,94.74 L469.95,94.68 L470.28,94.61 L470.61,94.55 L470.93,94.48 L471.26,94.42 L471.59,94.35 L471.92,94.29 L472.24,94.23 L472.57,94.17 L472.90,94.10 L473.22,94.04 L473.55,93.98 L473.88,93.92 L474.21,93.86 L474.53,93.81 L474.86,93.75 L475.19,93.69 L475.52,93.63 L475.84,93.58 L476.17,93.52 L476.50,93.46 L476.82,93.41 L477.15,93.35 L477.48,93.30 L477.81,93.24 L478.13,93.19 L478.46,93.14 L478.79,93.08 L479.11,93.03 L479.44,92.98 L479.77,92.93 L480.10,92.88 L480.42,92.83 L480.75,92.78 L481.08,92.73 L481.40,92.68 L481.73,92.63 L482.06,92.58 L482.39,92.53 L482.71,92.48 L483.04,92.43 L483.37,92.39 L483.70,92.34 L484.02,92.29 L484.35,92.25 L484.68,92.20 L485.00,92.15 L485.33,92.11 L485.66,92.06 L485.99,92.02 L486.31,91.98 L486.64,91.93 L486.97,91.89 L487.29,91.84 L487.62,91.80 L487.95,91.76 L488.28,91.72 L488.60,91.67 L488.93,91.63 L489.26,91.59 L489.58,91.55 L489.91,91.51 L490.24,91.47 L490.57,91.43 L490.89,91.39 L491.22,91.35 L491.55,91.31 L491.88,91.27 L492.20,91.23 L492.53,91.19 L492.86,91.15 L493.18,91.11 L493.51,91.07 L493.84,91.03 L494.17,91.00 L494.49,90.96 L494.82,90.92 L495.15,90.89 L495.47,90.85 L495.80,90.81 L496.13,90.78 L496.46,90.74 L496.78,90.70 L497.11,90.67 L497.44,90.63 L497.76,90.60 L498.09,90.56 L498.42,90.53 L498.75,90.49 L499.07,90.46 L499.40,90.42 L499.73,90.39 L500.06,90.36 L500.38,90.32 L500.71,90.29 L501.04,90.26 L501.36,90.22 L501.69,90.19 L502.02,90.16 L502.35,90.13 L502.67,90.10 L503.00,90.06" fill="none" stroke="#52a22e" stroke-width="1.2" />
<circle cx="421.20" cy="141.90" r="1.7" fill="#52a22e"/>
<line x1="426.40" y1="115.90" x2="426.40" y2="122.70" stroke="#52a22e" stroke-width="1.1" />
<line x1="425.55" y1="115.90" x2="427.25" y2="115.90" stroke="#52a22e" stroke-width="1.0" />
<line x1="425.55" y1="122.70" x2="427.25" y2="122.70" stroke="#52a22e" stroke-width="1.0" />
<circle cx="426.40" cy="119.40" r="1.7" fill="#52a22e"/>
<line x1="431.50" y1="107.70" x2="431.50" y2="122.20" stroke="#52a22e" stroke-width="1.1" />
<line x1="430.65" y1="107.70" x2="432.35" y2="107.70" stroke="#52a22e" stroke-width="1.0" />
<line x1="430.65" y1="122.20" x2="432.35" y2="122.20" stroke="#52a22e" stroke-width="1.0" />
<circle cx="431.50" cy="114.50" r="1.7" fill="#52a22e"/>
<line x1="441.60" y1="95.50" x2="441.60" y2="117.30" stroke="#52a22e" stroke-width="1.1" />
<line x1="440.75" y1="95.50" x2="442.45" y2="95.50" stroke="#52a22e" stroke-width="1.0" />
<line x1="440.75" y1="117.30" x2="442.45" y2="117.30" stroke="#52a22e" stroke-width="1.0" />
<circle cx="441.60" cy="106.40" r="1.7" fill="#52a22e"/>
<line x1="462.10" y1="76.90" x2="462.10" y2="105.80" stroke="#52a22e" stroke-width="1.1" />
<line x1="461.25" y1="76.90" x2="462.95" y2="76.90" stroke="#52a22e" stroke-width="1.0" />
<line x1="461.25" y1="105.80" x2="462.95" y2="105.80" stroke="#52a22e" stroke-width="1.0" />
<circle cx="462.10" cy="91.40" r="1.7" fill="#52a22e"/>
<line x1="503.00" y1="71.50" x2="503.00" y2="109.10" stroke="#52a22e" stroke-width="1.1" />
<line x1="502.15" y1="71.50" x2="503.85" y2="71.50" stroke="#52a22e" stroke-width="1.0" />
<line x1="502.15" y1="109.10" x2="503.85" y2="109.10" stroke="#52a22e" stroke-width="1.0" />
<circle cx="503.00" cy="90.00" r="1.7" fill="#52a22e"/>
<line x1="421.20" y1="186.00" x2="421.20" y2="271.50" stroke="#000" stroke-width="1.4" />
<line x1="417.50" y1="270.80" x2="421.20" y2="270.80" stroke="#000" stroke-width="1.1" />
<text x="413.60" y="274.50" font-size="10.3" text-anchor="end" fill="#111" font-weight="normal" >1.00</text>
<line x1="417.50" y1="230.05" x2="421.20" y2="230.05" stroke="#000" stroke-width="1.1" />
<text x="413.60" y="233.75" font-size="10.3" text-anchor="end" fill="#111" font-weight="normal" >1.25</text>
<line x1="417.50" y1="189.30" x2="421.20" y2="189.30" stroke="#000" stroke-width="1.1" />
<text x="413.60" y="193.00" font-size="10.3" text-anchor="end" fill="#111" font-weight="normal" >1.50</text>
<line x1="420.50" y1="270.80" x2="506.70" y2="270.80" stroke="#000" stroke-width="1.4" />
<line x1="421.20" y1="270.80" x2="421.20" y2="274.50" stroke="#000" stroke-width="1.1" />
<text x="421.20" y="286.80" font-size="10.3" text-anchor="middle" fill="#111" font-weight="normal" >0</text>
<line x1="462.10" y1="270.80" x2="462.10" y2="274.50" stroke="#000" stroke-width="1.1" />
<text x="462.10" y="286.80" font-size="10.3" text-anchor="middle" fill="#111" font-weight="normal" >250</text>
<line x1="503.00" y1="270.80" x2="503.00" y2="274.50" stroke="#000" stroke-width="1.1" />
<text x="503.00" y="286.80" font-size="10.3" text-anchor="middle" fill="#111" font-weight="normal" >500</text>
<text x="464.00" y="303.40" font-size="12" text-anchor="middle" fill="#111" font-weight="normal" textLength="94.5" lengthAdjust="spacingAndGlyphs" >Concentration IL-2 (IU)</text>
<path d="M421.20,270.80 L421.45,270.31 L421.70,269.51 L421.95,268.56 L422.20,267.50 L422.45,266.36 L422.70,265.16 L422.95,263.92 L423.20,262.67 L423.45,261.39 L423.70,260.12 L423.95,258.85 L424.20,257.59 L424.45,256.34 L424.70,255.12 L424.95,253.93 L425.20,252.76 L425.45,251.63 L425.70,250.53 L425.95,249.46 L426.20,248.43 L426.45,247.44 L426.70,246.49 L426.95,245.58 L427.20,244.70 L427.45,243.87 L427.70,243.07 L427.95,242.31 L428.20,241.59 L428.45,240.90 L428.70,240.25 L428.95,239.64 L429.20,239.05 L429.45,238.50 L429.70,237.98 L429.95,237.50 L430.20,237.03 L430.45,236.60 L430.70,236.19 L430.95,235.81 L431.20,235.46 L431.45,235.12 L431.70,234.81 L431.95,234.52 L432.20,234.24 L432.45,233.99 L432.70,233.75 L432.95,233.53 L433.20,233.32 L433.45,233.13 L433.70,232.96 L433.95,232.79 L434.20,232.64 L434.45,232.50 L434.70,232.37 L434.95,232.25 L435.20,232.13 L435.45,232.03 L435.70,231.94 L435.95,231.85 L436.20,231.77 L436.45,231.69 L436.70,231.62 L436.95,231.56 L437.20,231.50 L437.45,231.45 L437.70,231.40 L437.95,231.36 L438.20,231.32 L438.45,231.28 L438.70,231.25 L438.95,231.21 L439.20,231.19 L439.45,231.16 L439.70,231.13 L439.95,231.11 L440.20,231.09 L440.45,231.08 L440.70,231.06 L440.95,231.04 L441.20,231.03 L442.20,230.99 L443.20,230.96 L444.20,230.94 L445.20,230.92 L446.20,230.92 L447.20,230.91 L448.20,230.91 L449.20,230.90 L450.20,230.90 L451.20,230.90 L452.20,230.90 L453.20,230.90 L454.20,230.90 L455.20,230.90 L456.20,230.90 L457.20,230.90 L458.20,230.90 L459.20,230.90 L460.20,230.90 L461.20,230.90 L462.20,230.90 L463.20,230.90 L464.20,230.90 L465.20,230.90 L466.20,230.90 L467.20,230.90 L468.20,230.90 L469.20,230.90 L470.20,230.90 L471.20,230.90 L472.20,230.90 L473.20,230.90 L474.20,230.90 L475.20,230.90 L476.20,230.90 L477.20,230.90 L478.20,230.90 L479.20,230.90 L480.20,230.90 L481.20,230.90 L482.20,230.90 L483.20,230.90 L484.20,230.90 L485.20,230.90 L486.20,230.90 L487.20,230.90 L488.20,230.90 L489.20,230.90 L490.20,230.90 L491.20,230.90 L492.20,230.90 L493.20,230.90 L494.20,230.90 L495.20,230.90 L496.20,230.90 L497.20,230.90 L498.20,230.90 L499.20,230.90 L500.20,230.90 L501.20,230.90 L502.20,230.90 L503.20,230.90" fill="none" stroke="#52a22e" stroke-width="1.2" />
<circle cx="421.20" cy="270.80" r="1.7" fill="#52a22e"/>
<line x1="426.20" y1="225.50" x2="426.20" y2="269.40" stroke="#52a22e" stroke-width="1.1" />
<line x1="425.35" y1="225.50" x2="427.05" y2="225.50" stroke="#52a22e" stroke-width="1.0" />
<line x1="425.35" y1="269.40" x2="427.05" y2="269.40" stroke="#52a22e" stroke-width="1.0" />
<circle cx="426.20" cy="247.60" r="1.7" fill="#52a22e"/>
<line x1="431.00" y1="222.40" x2="431.00" y2="255.20" stroke="#52a22e" stroke-width="1.1" />
<line x1="430.15" y1="222.40" x2="431.85" y2="222.40" stroke="#52a22e" stroke-width="1.0" />
<line x1="430.15" y1="255.20" x2="431.85" y2="255.20" stroke="#52a22e" stroke-width="1.0" />
<circle cx="431.00" cy="238.50" r="1.7" fill="#52a22e"/>
<line x1="441.40" y1="202.70" x2="441.40" y2="238.50" stroke="#52a22e" stroke-width="1.1" />
<line x1="440.55" y1="202.70" x2="442.25" y2="202.70" stroke="#52a22e" stroke-width="1.0" />
<line x1="440.55" y1="238.50" x2="442.25" y2="238.50" stroke="#52a22e" stroke-width="1.0" />
<circle cx="441.40" cy="220.30" r="1.7" fill="#52a22e"/>
<line x1="462.00" y1="221.80" x2="462.00" y2="243.60" stroke="#52a22e" stroke-width="1.1" />
<line x1="461.15" y1="221.80" x2="462.85" y2="221.80" stroke="#52a22e" stroke-width="1.0" />
<line x1="461.15" y1="243.60" x2="462.85" y2="243.60" stroke="#52a22e" stroke-width="1.0" />
<circle cx="462.00" cy="233.00" r="1.7" fill="#52a22e"/>
<line x1="502.90" y1="218.50" x2="502.90" y2="253.30" stroke="#52a22e" stroke-width="1.1" />
<line x1="502.05" y1="218.50" x2="503.75" y2="218.50" stroke="#52a22e" stroke-width="1.0" />
<line x1="502.05" y1="253.30" x2="503.75" y2="253.30" stroke="#52a22e" stroke-width="1.0" />
<circle cx="502.90" cy="236.00" r="1.7" fill="#52a22e"/>
</svg>
</body></html>
